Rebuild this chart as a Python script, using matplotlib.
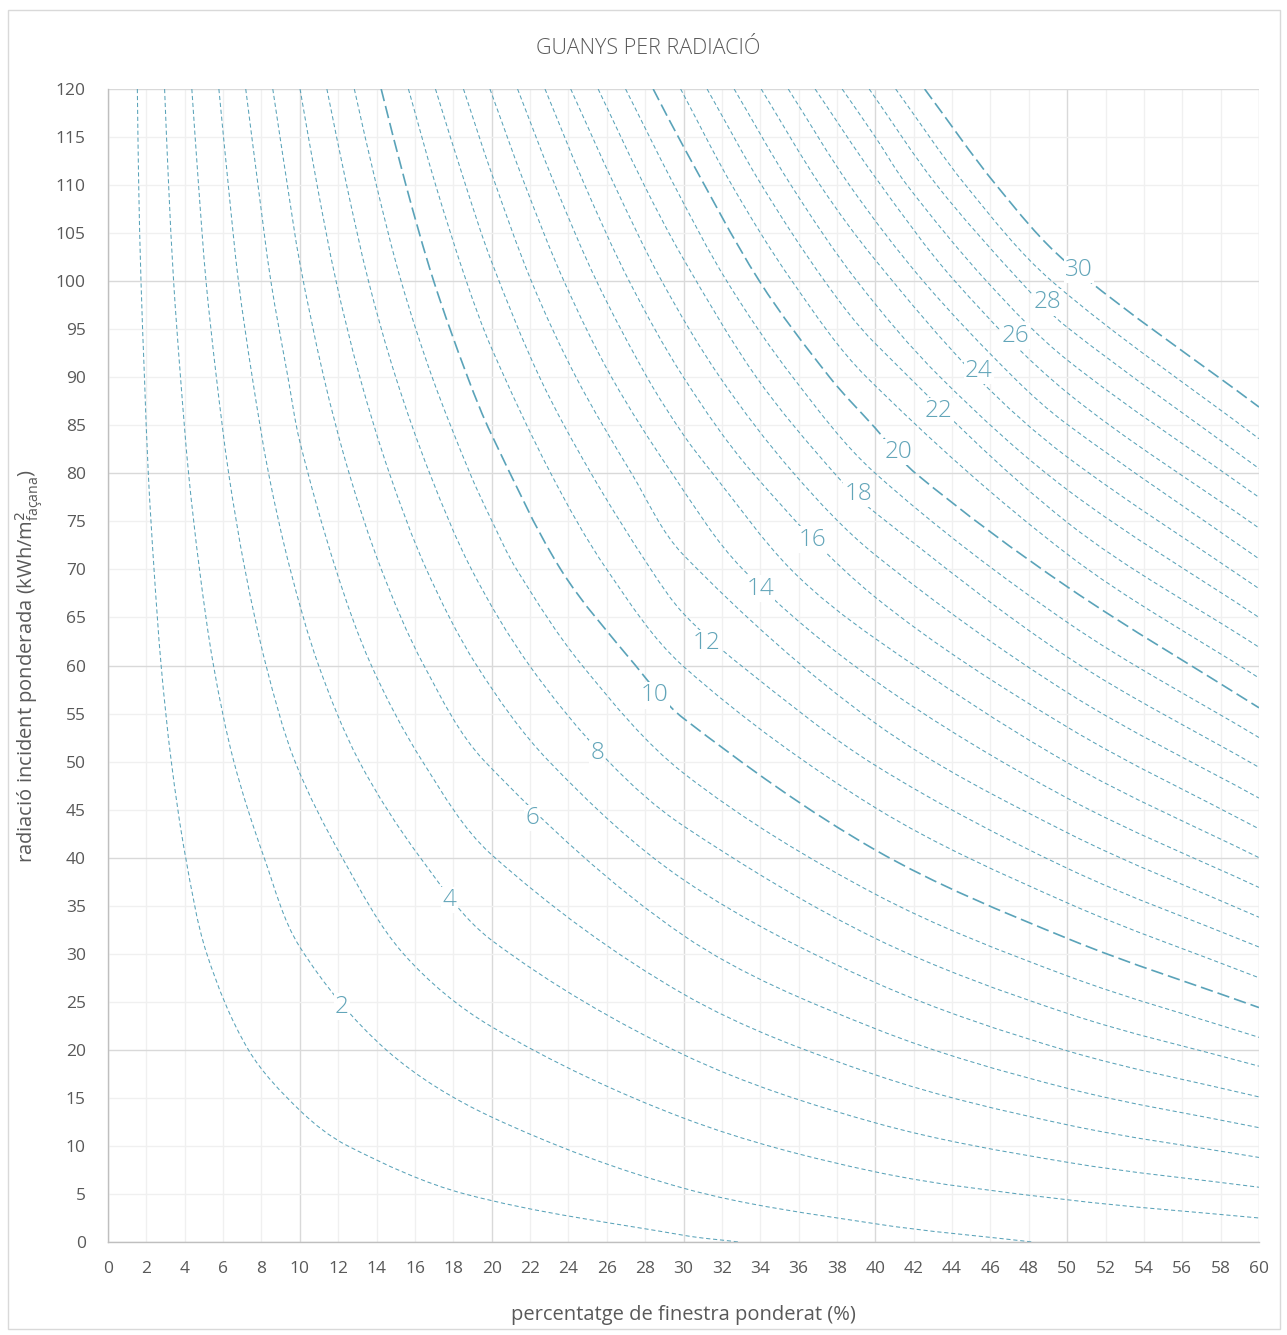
import numpy as np
import matplotlib
matplotlib.use("Agg")
import matplotlib.pyplot as plt
from matplotlib.path import Path
from matplotlib.patches import PathPatch, Rectangle

plt.rcParams["font.family"] = ["Open Sans", "DejaVu Sans"]
plt.rcParams["lines.scale_dashes"] = False

# ---- data ---------------------------------------------------------------
levels = list(range(1, 31))          # gain level of each iso-curve
heavy_levels = [10, 20, 30]
labeled_levels = list(range(2, 31, 2))

x_ticks = list(range(0, 61, 2))
y_ticks = list(range(0, 121, 5))

N = None
# x where each curve (levels 1..30) crosses a given radiation value
x_at_y120 = [1.53, 2.95, 4.37, 5.78, 7.18, 8.59, 10.01, 11.41, 12.84, 14.24,
             15.66, 17.07, 18.53, 19.91, 21.35, 22.78, 24.12, 25.55, 26.98, 28.42,
             29.85, 31.23, 32.64, 34.05, 35.46, 36.86, 38.27, 39.68, 41.06, 42.57]
x_at_y110 = [1.60, 3.16, 4.72, 6.27, 7.82, 9.35, 10.90, 12.44, 13.99, 15.53,
             17.08, 18.64, 20.19, 21.74, 23.30, 24.85, 26.40, 27.95, 29.51, 31.06,
             32.52, 34.07, 35.60, 37.12, 38.65, 40.15, 41.65, 43.20, 44.70, 46.30]
x_at_y100 = [1.72, 3.42, 5.11, 6.80, 8.49, 10.19, 11.89, 13.58, 15.28, 16.98,
             18.68, 20.38, 22.07, 23.77, 25.47, 27.17, 28.87, 30.56, 32.26, 33.96,
             35.66, 37.36, 39.05, 40.75, 42.50, 44.15, 45.80, 47.55, 49.20, 51.00]
x_at_y90 = [1.90, 3.78, 5.65, 7.52, 9.38, 11.25, 13.13, 15.00, 16.90, 18.75,
            20.63, 22.50, 24.40, 26.25, 28.10, 30.00, 31.90, 33.80, 35.70, 37.62,
            39.55, 41.47, 43.39, 45.31, 47.20]
x_at_y80 = [2.10, 4.20, 6.29, 8.37, 10.47, 12.57, 14.67, 16.77, 18.87, 20.97,
            23.08, 25.18, 27.29, 29.40, 31.52, 33.63, 35.75, 37.87, 40.00, 42.10]
x_at_y70 = [2.40, 4.77, 7.14, 9.50, 11.88, 14.25, 16.60, 18.95, 21.30, 23.60,
            26.00, 28.30, 30.70, 33.10, 35.60]
x_at_y60 = [2.77, 5.50, 8.24, 10.98, 13.73, 16.47, 19.22, 21.97, 24.72, 27.50,
            30.24, 33.00]
x_at_y50 = [3.30, 6.56, 9.75, 13.10, 16.40, 19.65, 23.00, 26.10]
x_at_y40 = [4.05, 8.14, 12.21, 16.28, 20.15]
x_at_y30 = [5.15, 10.30, 15.40]
x_at_y20 = [7.32, 14.50]
x_at_y10 = [12.50, 23.40]
x_at_y5 = [18.60, 31.30]
x_at_y0 = [32.90, 48.20]

# radiation where each curve crosses a given window percentage
y_at_x10 = [13.7, 30.7, 48.5, 66.3, 83.3, 101.9]
y_at_x20 = [4.2, 13.0, 22.4, 31.4, 40.3, 49.0, 57.6, 66.3, 75.1, 84.0,
            93.0, 102.0, 111.2]
y_at_x30 = [0.7, 5.6, 12.9, 19.5, 25.8, 31.9, 37.7, 43.3, 48.8, 54.5,
            59.9, 65.4, 71.5, 77.6, 84.0, 90.0, 96.1, 102.3, 108.2, 114.0]
y_at_x40 = [N, 1.9, 7.3, 12.4, 17.4, 22.2, 27.0, 31.6, 36.2, 40.8,
            45.2, 49.6, 54.0, 58.4, 62.8, 67.1, 71.5, 75.9, 80.3, 84.7,
            89.1, 93.5, 97.9, 102.2, 106.5, 110.8, 115.0]
y_at_x50 = [N, N, 4.4, 8.3, 12.2, 16.0, 19.9, 23.8, 27.7, 31.6,
            35.3, 38.9, 42.6, 46.2, 49.9, 53.6, 57.2, 60.9, 64.5, 68.2,
            71.6, 74.9, 78.3, 81.7, 85.1, 88.4, 91.8, 95.2, 98.5, 101.9]
y_at_x60 = [N, N, 2.5, 5.7, 8.8, 11.9, 15.1, 18.3, 21.3, 24.4,
            27.5, 30.7, 33.8, 36.9, 40.0, 43.0, 46.2, 49.4, 52.5, 55.6,
            58.7, 61.9, 65.0, 68.0, 71.1, 74.3, 77.5, 80.5, 83.6, 86.9]

# where the level numbers sit on their curves
label_x = [12.2, 17.8, 22.1, 25.5, 28.5, 31.2, 34.0, 36.7, 39.1, 41.2,
           43.3, 45.4, 47.3, 49.0, 50.6]
label_y = [24.5, 35.6, 44.1, 50.9, 56.9, 62.3, 68.0, 73.1, 77.9, 82.2,
           86.5, 90.7, 94.3, 97.8, 101.2]

rows = {120: x_at_y120, 110: x_at_y110, 100: x_at_y100, 90: x_at_y90,
        80: x_at_y80, 70: x_at_y70, 60: x_at_y60, 50: x_at_y50,
        40: x_at_y40, 30: x_at_y30, 20: x_at_y20, 10: x_at_y10,
        5: x_at_y5, 0: x_at_y0}
cols = {10: y_at_x10, 20: y_at_x20, 30: y_at_x30, 40: y_at_x40,
        50: y_at_x50, 60: y_at_x60}

# ---- styling ------------------------------------------------------------
W, H = 1287, 1335
curve_color = "#5aa3b9"
label_color = "#62a5b9"
text_color = "#595959"

fig = plt.figure(figsize=(W / 100, H / 100), dpi=100)
ax = fig.add_axes([108 / W, 93 / H, 1151 / W, 1153 / H])
ax.set_xlim(0, 60)
ax.set_ylim(0, 120)

# grid
for xv in range(0, 61, 2):
    major = xv % 10 == 0
    ax.axvline(xv, color="#d9d9d9" if major else "#f0f0f0", lw=1.0, zorder=0)
for yv in range(0, 121, 5):
    major = yv % 20 == 0
    ax.axhline(yv, color="#d9d9d9" if major else "#f0f0f0", lw=1.0, zorder=0)

for side in ("top", "right"):
    ax.spines[side].set_visible(False)
for side in ("left", "bottom"):
    ax.spines[side].set_color("#bfbfbf")
    ax.spines[side].set_linewidth(1.0)

ax.set_xticks(x_ticks)
ax.set_yticks(y_ticks)
ax.tick_params(length=0, colors=text_color, labelsize=12.5, pad=14)
ax.tick_params(axis="y", pad=16)


def curve_points(i, min_gap=45):
    """Gridline crossings of one curve, ordered along x, in display units."""
    col_pts = [(xv, arr[i]) for xv, arr in cols.items()
               if i < len(arr) and arr[i] is not None]
    first_col = min(p[0] for p in col_pts) if col_pts else np.inf
    col_y = dict(col_pts)
    pts = list(col_pts)
    for yv, arr in rows.items():
        if i >= len(arr) or arr[i] is None:
            continue
        xr = arr[i]
        if xr < first_col:
            pts.append((xr, yv))
            continue
        # between two columns: keep only where the curve still drops fast
        lo = max((c for c in col_y if c <= xr), default=None)
        hi = min((c for c in col_y if c > xr), default=None)
        if lo is None:
            continue
        if hi is None or col_y[lo] - col_y[hi] > 8:
            pts.append((xr, yv))
    pts.sort()
    disp = ax.transData.transform(pts)
    kept = [disp[0]]
    for k, d in enumerate(disp[1:], start=1):
        last = k == len(disp) - 1
        if np.hypot(*(d - kept[-1])) >= min_gap:
            kept.append(d)
        elif last:
            kept[-1] = d
    return np.array(kept)


def smooth_path(D):
    """Chord-length Catmull-Rom through display points, as cubic Beziers."""
    ext = np.vstack([2 * D[0] - D[1], D, 2 * D[-1] - D[-2]])
    verts = [D[0]]
    codes = [Path.MOVETO]
    for k in range(1, len(ext) - 2):
        p0, p1, p2, p3 = ext[k - 1], ext[k], ext[k + 1], ext[k + 2]
        d01 = np.hypot(*(p1 - p0)); d12 = np.hypot(*(p2 - p1)); d23 = np.hypot(*(p3 - p2))
        m1 = (p2 - p0) / (d01 + d12)
        m2 = (p3 - p1) / (d12 + d23)
        c1 = p1 + m1 * d12 / 3
        c2 = p2 - m2 * d12 / 3
        verts += [c1, c2, p2]
        codes += [Path.CURVE4] * 3
    inv = ax.transData.inverted()
    return Path(inv.transform(np.array(verts)), codes)


for i, lev in enumerate(levels):
    D = curve_points(i)
    path = smooth_path(D)
    if lev in heavy_levels:
        style = dict(lw=1.2, linestyle=(0, (9.0, 3.6)))
    else:
        style = dict(lw=0.75, linestyle=(0, (3.0, 2.0)))
    ax.add_patch(PathPatch(path, fill=False, edgecolor=curve_color,
                           zorder=2, capstyle="butt", **style))

for lev, lx, ly in zip(labeled_levels, label_x, label_y):
    ax.text(lx, ly, str(lev), ha="center", va="center", fontsize=17.5,
            fontweight=300, color=label_color, zorder=3,
            bbox=dict(facecolor="white", edgecolor="none", pad=0.8))

ax.set_xlabel("percentatge de finestra ponderat (%)", fontsize=14.5,
              color=text_color)
ax.set_ylabel("radiació incident ponderada (kWh/m$^{2}_{\\mathregular{façana}}$)",
              fontsize=14.5, color=text_color)
ax.xaxis.set_label_coords(0.5, -(1305 - 1242) / 1153)
ax.yaxis.set_label_coords(-(108 - 45) / 1151, 0.5)
fig.text(648 / W, 1 - 49 / H, "GUANYS PER RADIACIÓ", ha="center", va="center",
         fontsize=15.5, fontweight=300, color=text_color)

fig.patches.append(Rectangle((8 / W, 6 / H), 1272 / W, 1319 / H,
                             transform=fig.transFigure, fill=False,
                             edgecolor="#d9d9d9", lw=1.0))

fig.savefig("out.png", dpi=100, facecolor="white")
